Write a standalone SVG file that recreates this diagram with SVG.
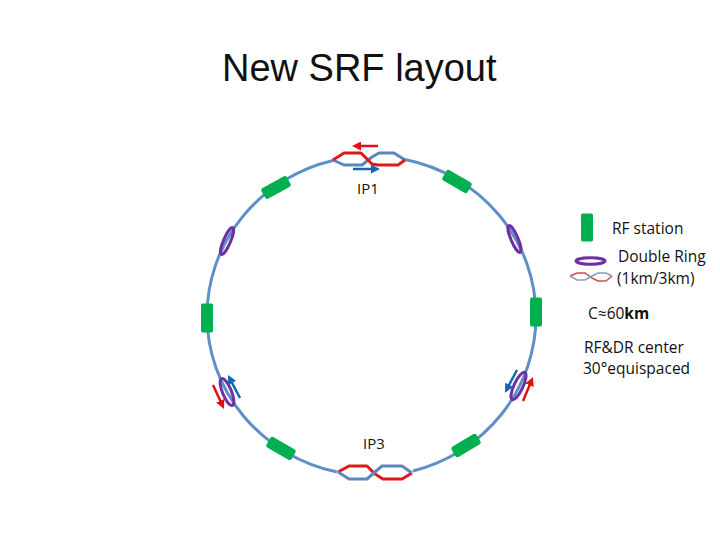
<svg xmlns="http://www.w3.org/2000/svg" width="720" height="540" viewBox="0 0 720 540">
<defs>
<marker id="ar" markerWidth="3.6" markerHeight="3.6" refX="1" refY="1.8" orient="auto"><path d="M0 0L3.6 1.8L0 3.6Z" fill="#e01010"/></marker>
<marker id="ab" markerWidth="3.6" markerHeight="3.6" refX="1" refY="1.8" orient="auto"><path d="M0 0L3.6 1.8L0 3.6Z" fill="#1568b0"/></marker>
</defs>
<style>
text{font-family:"Open Sans","Liberation Sans",sans-serif;fill:#111}
.l{font-size:15.500px}
.ip{font-size:15px}
.ring{fill:none;stroke:#5f8fc8;stroke-width:3}
.bl{fill:none;stroke:#5f86b8;stroke-width:3;stroke-linejoin:round}
.rd{fill:none;stroke:#e01818;stroke-width:3;stroke-linejoin:round}
.rf{fill:#00b050;stroke:#00b050;stroke-width:1}
.dr{fill:none;stroke:#7030a0;stroke-width:3}
.ra{fill:none;stroke:#e01010;stroke-width:2.500;marker-end:url(#ar)}
.ba{fill:none;stroke:#1568b0;stroke-width:2.500;marker-end:url(#ab)}
</style>
<text x="222" y="81" font-size="38" style="font-family:'Liberation Sans','Open Sans',sans-serif">New SRF layout</text>
<g id="connectors">
<path class="ring" d="M333 160.500A165 160 0 0 0 207 316A165 160 0 0 0 337 472"/>
<path class="ring" d="M413 471A164 160 0 0 0 536 316A164 160 0 0 0 405 159.500"/>
</g>
<g id="ip1">
<path class="bl" d="M333 160L344 165L362 165L372 157L379 153L394 153L405 160"/>
<path class="rd" d="M333 160L344 153L361 153L372 164L378 165L398 165L405 160"/>
<path class="ra" d="M378 146L358.500 146"/>
<path class="ba" d="M353 169L373.500 169"/>
<text class="ip" x="357" y="194">IP1</text>
</g>
<g id="ip3">
<path class="rd" d="M338 472L349 466L367 466L375 474L383 479L402 479L412 473"/>
<path class="bl" d="M338 472L349 479L367 479L375 472L382 466L402 466L412 473"/>
<text class="ip" x="363" y="449">IP3</text>
</g>
<g id="rf1"><rect class="rf" x="262" y="182" width="28" height="11" rx="2" transform="rotate(-29 276 187.500)"/></g>
<g id="rf2"><rect class="rf" x="443" y="176" width="28" height="11" rx="2" transform="rotate(30 457 181.500)"/></g>
<g id="rf3"><rect class="rf" x="201.500" y="304" width="11" height="28" rx="1"/></g>
<g id="rf4"><rect class="rf" x="530.500" y="298" width="11" height="28" rx="1"/></g>
<g id="rf5"><rect class="rf" x="267" y="443" width="28" height="11" rx="2" transform="rotate(30 281 448.500)"/></g>
<g id="rf6"><rect class="rf" x="452" y="440" width="28" height="11" rx="2" transform="rotate(-31 466 445.500)"/></g>
<g id="dr1"><ellipse class="dr" cx="227" cy="241" rx="3.500" ry="14.500" transform="rotate(23 227 241)"/></g>
<g id="dr2"><ellipse class="dr" cx="514.500" cy="239" rx="3.500" ry="14.500" transform="rotate(-23 514.500 239)"/></g>
<g id="dr3"><ellipse class="dr" cx="227" cy="392" rx="4.500" ry="14.500" transform="rotate(-22 227 392)"/>
<path class="ra" d="M213 385L221.300 403"/>
<path class="ba" d="M240 398L231 380.800"/></g>
<g id="dr4"><ellipse class="dr" cx="518.500" cy="386" rx="4.500" ry="15" transform="rotate(25 518.500 386)"/>
<path class="ba" d="M517 370L508 387"/>
<path class="ra" d="M523 401L530.500 383"/></g>
<g id="legend">
<rect class="rf" x="581.500" y="214" width="11" height="27" rx="1"/>
<ellipse class="dr" cx="590.500" cy="261" rx="14.500" ry="3.200"/>
<path d="M570 276L577 273L585 273L592 278L598 281L606 281L612 276" fill="none" stroke="#d84848" stroke-width="1.500"/>
<path d="M570 276L577 280L585 280L592 276L598 273L606 273L612 276" fill="none" stroke="#7fa0c8" stroke-width="1.500"/>
<text class="l" x="612" y="234">RF station</text>
<text class="l" x="618" y="262">Double Ring</text>
<text class="l" x="617" y="284">(1km/3km)</text>
<text class="l" x="588" y="319">C≈60<tspan font-weight="700">km</tspan></text>
<text class="l" x="584" y="353">RF&amp;DR center</text>
<text class="l" x="583" y="374">30°equispaced</text>
</g>
</svg>
